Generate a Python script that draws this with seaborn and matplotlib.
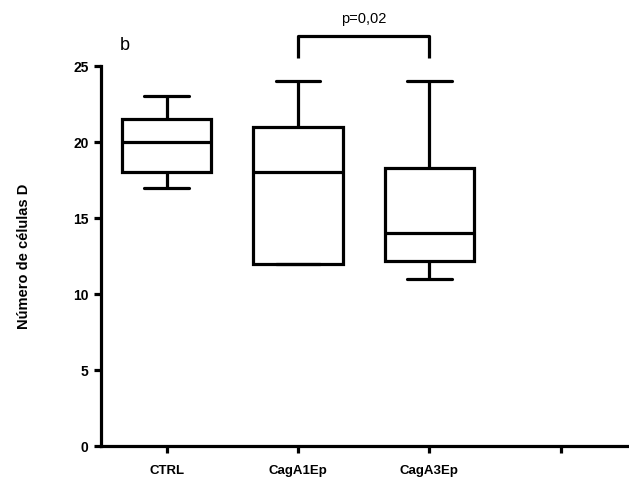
import matplotlib
matplotlib.use("Agg")
import matplotlib.pyplot as plt
import seaborn as sns
import pandas as pd

# Data (values chosen so quartiles/extremes match the reference boxes)
categories = ["CTRL", "CagA1Ep", "CagA3Ep", ""]
ctrl = [17, 18, 18, 20, 21.5, 21.5, 23]
caga1 = [12, 12, 12, 18, 21, 21, 24]
caga3 = [11, 12.2, 12.2, 14, 18.3, 18.3, 24]
yticks = [0, 5, 10, 15, 20, 25]
p_text = "p=0,02"

sns.set_theme(style="ticks")
plt.rcParams["font.family"] = ["Liberation Sans", "DejaVu Sans"]
plt.rcParams["text.color"] = "black"
plt.rcParams["axes.labelcolor"] = "black"
plt.rcParams["xtick.color"] = "black"
plt.rcParams["ytick.color"] = "black"

df = pd.DataFrame({
    "grupo": ["CTRL"] * len(ctrl) + ["CagA1Ep"] * len(caga1) + ["CagA3Ep"] * len(caga3),
    "valor": ctrl + caga1 + caga3,
})

fig = plt.figure(figsize=(6.29, 4.83), dpi=100)
ax = fig.add_axes([101 / 629, 1 - 446 / 483, 1 - 101 / 629, (446 - 66) / 483])

lw = 2.3
sns.boxplot(data=df, x="grupo", y="valor", order=categories, whis=(0, 100),
            width=0.68, color="white", linecolor="black", linewidth=lw,
            fill=True, ax=ax)

ax.set_xlim(-0.5, 3.52)
ax.set_ylim(0, 25)
ax.set_yticks(yticks)
ax.set_yticklabels([str(v) for v in yticks], fontsize=10, fontweight="bold")
ax.set_xticks(range(len(categories)))
ax.set_xticklabels(categories, fontsize=9.5, fontweight="bold")
ax.set_xlabel("")
ax.set_ylabel("Número de células D", fontsize=10.5, fontweight="bold", labelpad=30)
ax.tick_params(axis="both", width=lw, length=5, color="black", pad=4)
ax.tick_params(axis="x", pad=9)
for s in ["left", "bottom"]:
    ax.spines[s].set_linewidth(lw)
    ax.spines[s].set_color("black")
sns.despine(ax=ax)

# significance bracket
x1, x2 = 1, 2
ax.plot([x1, x1, x2, x2], [25.5, 27.0, 27.0, 25.5], color="black", lw=lw,
        clip_on=False, solid_capstyle="butt")
ax.text((x1 + x2) / 2, 27.6, p_text, ha="center", va="bottom", fontsize=10.5)

fig.text(125 / 629, 1 - 45 / 483, "b", fontsize=13, ha="center", va="center")

fig.savefig("out.png", dpi=100)
